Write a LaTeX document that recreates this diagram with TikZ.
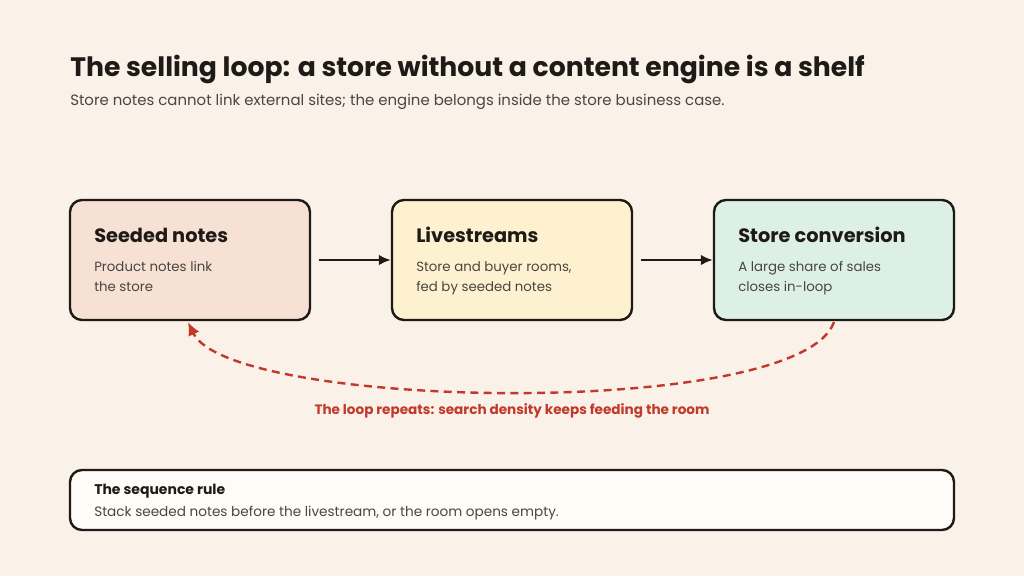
\documentclass[tikz,border=0pt]{standalone}
\usepackage{fontspec}
\setmainfont{Poppins}
\usetikzlibrary{arrows.meta}
\definecolor{bgcol}{HTML}{FAF1E8}
\definecolor{ink}{HTML}{1E1A17}
\definecolor{greytxt}{HTML}{4A4541}
\definecolor{loopred}{HTML}{C0392B}
\definecolor{seedfill}{HTML}{F7E0D4}
\definecolor{livefill}{HTML}{FEF1CF}
\definecolor{storefill}{HTML}{DDF0E6}
\definecolor{rulefill}{HTML}{FFFCF7}

\begin{document}
\begin{tikzpicture}[
    x=0.75pt, y=-0.75pt,
    every node/.style={inner sep=0pt},
    stage/.style={draw=ink, line width=1.8pt, rounded corners=9pt,
        minimum width=180pt, minimum height=90pt},
    heading/.style={anchor=west, font=\bfseries\fontsize{14.5}{16}\selectfont, text=ink},
    body/.style={anchor=north west, align=left, font=\fontsize{10}{15}\selectfont, text=greytxt},
    flow/.style={-{Latex[length=9pt,width=8pt]}, line width=1.8pt, draw=ink}
]
    % Background
    \fill[bgcol] (0,0) rectangle (1024,576);

    % Title
    \node[anchor=base west, font=\bfseries\fontsize{20}{22}\selectfont, text=ink] (title) at (70,76)
        {The selling loop: a store without a content engine is a shelf};
    \node[anchor=base west, font=\fontsize{11.2}{13}\selectfont, text=greytxt] (subtitle) at (70,105)
        {Store notes cannot link external sites; the engine belongs inside the store business case.};

    % Stages
    \node[stage, fill=seedfill] (seeded) at (190,260) {};
    \node[stage, fill=livefill] (live) at (512,260) {};
    \node[stage, fill=storefill] (store) at (834,260) {};

    \node[heading] at (94,235) {Seeded notes};
    \node[body] at (94,261) {Product notes link\\the store};
    \node[heading] at (416,235) {Livestreams};
    \node[body] at (416,261) {Store and buyer rooms,\\fed by seeded notes};
    \node[heading] at (738,235) {Store conversion};
    \node[body] at (738,261) {A large share of sales\\closes in-loop};

    % Flow
    \draw[flow] (seeded.east) ++(8,0) -- (live.west);
    \draw[flow] (live.east) ++(8,0) -- (store.west);

    % Loop back
    \coordinate (loopend) at (188,322);
    \draw[loopred, line width=1.8pt, dash pattern=on 6pt off 4pt, -{Latex[length=10pt,width=9pt]}]
        (834,322) .. controls (800,420) and (230,410) .. (loopend);
    \node[font=\bfseries\fontsize{10.2}{12}\selectfont, text=loopred] (looplabel) at (512,411)
        {The loop repeats: search density keeps feeding the room};

    % Rule
    \node[draw=ink, fill=rulefill, line width=1.8pt, rounded corners=9pt,
        minimum width=663pt, minimum height=45pt] (rule) at (512,500) {};
    \node[anchor=west, font=\bfseries\fontsize{10.5}{12}\selectfont, text=ink] at (94,491) {The sequence rule};
    \node[anchor=west, font=\fontsize{10.2}{12}\selectfont, text=greytxt] at (94,513)
        {Stack seeded notes before the livestream, or the room opens empty.};
\end{tikzpicture}
\end{document}
